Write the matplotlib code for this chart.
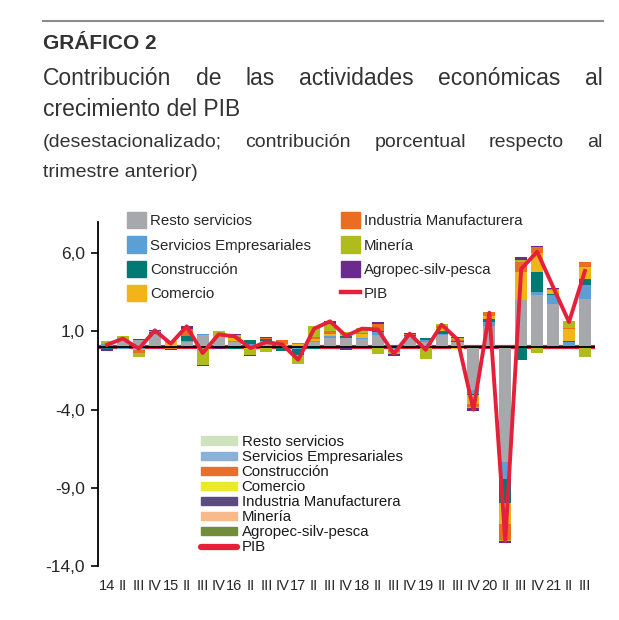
import matplotlib
matplotlib.use("Agg")
import matplotlib.pyplot as plt
from matplotlib.patches import Patch
from matplotlib.lines import Line2D
import numpy as np

plt.rcParams['font.family'] = ['Liberation Sans', 'DejaVu Sans']

# quarter labels 2014-I .. 2021-III
quarters = []
for yr in range(14, 22):
    for q in [str(yr), "II", "III", "IV"]:
        quarters.append(q)
quarters = quarters[:31]

# contributions (pp)
resto = [0.10, 0.30, 0.47, 0.85, 0.05, 0.32, 0.80, 0.62, 0.35, 0.15, 0.35, 0.05, 0.10, 0.32, 0.60, 0.60,
         0.50, 0.75, 0.10, 0.65, 0.30, 0.75, 0.30, -2.73, 1.33, -7.37, 3.00, 3.30, 2.74, 0.05, 3.10]
serv_emp = [0.08, -0.10, -0.10, -0.05, 0.00, 0.10, 0.05, -0.05, 0.05, 0.07, 0.05, -0.08, -0.15, 0.08, 0.10, -0.05,
            0.05, 0.20, -0.10, 0.05, 0.18, 0.10, 0.05, -0.27, 0.27, -1.07, 0.00, 0.20, 0.56, 0.30, 0.85]
construccion = [-0.10, 0.05, -0.05, 0.12, 0.00, 0.32, 0.00, 0.03, -0.10, 0.25, 0.10, -0.15, -0.35, -0.10, 0.00, 0.10,
                0.05, 0.05, 0.05, 0.05, 0.10, 0.15, 0.05, -0.05, 0.20, -1.50, -0.80, 1.30, 0.12, 0.07, 0.43]
comercio = [0.00, 0.10, -0.05, 0.00, 0.30, 0.00, 0.00, 0.05, 0.15, -0.10, 0.00, 0.15, 0.10, 0.12, 0.15, 0.05,
            0.25, 0.05, -0.10, 0.05, 0.00, 0.25, -0.15, -0.60, 0.20, -1.35, 1.80, 1.20, 0.26, 0.75, 0.75]
industria = [0.00, 0.00, -0.15, 0.00, -0.12, 0.43, 0.00, 0.00, 0.10, 0.00, 0.05, 0.25, 0.05, 0.10, 0.20, 0.00,
             0.05, 0.40, -0.10, 0.03, 0.00, 0.12, 0.05, -0.20, 0.22, -1.07, 0.65, 0.40, 0.05, 0.06, 0.32]
mineria = [0.20, 0.25, -0.30, 0.05, 0.05, -0.05, -1.15, 0.30, 0.10, -0.40, -0.33, 0.00, -0.60, 0.75, 0.40, 0.20,
           0.35, -0.47, -0.15, 0.00, -0.75, 0.10, 0.15, -0.05, 0.00, -0.05, 0.15, -0.36, 0.00, 0.41, -0.64]
agro = [-0.15, -0.05, 0.06, 0.10, -0.05, 0.20, -0.08, -0.10, 0.10, -0.05, 0.10, -0.05, 0.03, -0.05, 0.20, -0.15,
        -0.05, 0.15, -0.15, 0.07, 0.00, -0.04, 0.03, -0.20, 0.00, -0.10, 0.15, 0.05, 0.05, 0.02, 0.00]
pib = [0.15, 0.54, -0.10, 1.07, 0.22, 1.33, -0.38, 0.81, 0.69, -0.06, 0.32, 0.17, -0.81, 1.18, 1.65, 0.71,
       1.18, 1.13, -0.43, 0.86, -0.17, 1.43, 0.49, -4.00, 2.20, -12.40, 5.00, 6.10, 3.85, 1.60, 4.87]

series_names = ["Resto servicios", "Servicios Empresariales", "Construcción", "Comercio",
                "Industria Manufacturera", "Minería", "Agropec-silv-pesca"]
series_vals = [resto, serv_emp, construccion, comercio, industria, mineria, agro]
series_cols = ["#a7a8ab", "#5b9fd4", "#007a73", "#f2b517", "#ea6d21", "#b0bb1c", "#6a2b8d"]
pib_col = "#e5203a"

ytick_vals = [-14, -9, -4, 1, 6]
ytick_labels = ["-14,0", "-9,0", "-4,0", "1,0", "6,0"]

# odd second legend seen in the original
legend2_names = ["Resto servicios", "Servicios Empresariales", "Construcción", "Comercio",
                 "Industria Manufacturera", "Minería", "Agropec-silv-pesca"]
legend2_cols = ["#cde2bd", "#8ab2d8", "#e8712a", "#ece82a", "#5c4b7f", "#f8b98b", "#718c3b"]

txt_col = "#262626"

fig = plt.figure(figsize=(6.19, 6.20), dpi=100)
W, H = 619, 620
ax = fig.add_axes([97.5 / W, 1 - 566 / H, 497 / W, 344 / H])

x = np.arange(len(quarters))
pos_bottom = np.zeros(len(x))
neg_bottom = np.zeros(len(x))
for name, vals, col in zip(series_names, series_vals, series_cols):
    v = np.array(vals)
    pos = np.where(v > 0, v, 0)
    neg = np.where(v < 0, v, 0)
    ax.bar(x, pos, 0.76, bottom=pos_bottom, color=col, zorder=2)
    ax.bar(x, neg, 0.76, bottom=neg_bottom, color=col, zorder=2)
    pos_bottom += pos
    neg_bottom += neg

ax.axhline(0, color=pib_col, lw=3, zorder=1)
ax.axhline(0, color="black", lw=1.3, zorder=3)
ax.plot(x, pib, color=pib_col, lw=2.8, zorder=5)

ax.set_xlim(-0.6, 30.6)
ax.set_ylim(-14, 8)
ax.set_yticks(ytick_vals)
ax.set_yticklabels(ytick_labels, fontsize=12.5, color=txt_col)
ax.set_xticks(x)
ax.set_xticklabels(quarters, fontsize=10.5, color=txt_col)
ax.tick_params(axis='x', length=0, pad=9)
ax.tick_params(axis='y', length=5, width=1.2, pad=4)
for s in ["top", "right", "bottom"]:
    ax.spines[s].set_visible(False)
ax.spines["left"].set_linewidth(1.3)

handles = [Patch(color=c) for c in series_cols] + [Line2D([0], [0], color=pib_col, lw=3.2)]
labels = series_names + ["PIB"]
leg1 = ax.legend(handles, labels, ncol=2, loc="upper left", bbox_to_anchor=(0.059, 1.029),
                 frameon=False, fontsize=10.8, handlelength=1.27, handleheight=1.3,
                 handletextpad=0.3, labelspacing=0.53, columnspacing=1.95, borderaxespad=0, borderpad=0)
for t in leg1.get_texts():
    t.set_color(txt_col)
ax.add_artist(leg1)

handles2 = [Patch(color=c) for c in legend2_cols] + \
           [Line2D([0], [0], color=pib_col, lw=4.5, solid_capstyle="round")]
labels2 = legend2_names + ["PIB"]
leg2 = ax.legend(handles2, labels2, loc="upper left", bbox_to_anchor=(0.208, 0.381),
                 frameon=False, fontsize=10.8, handlelength=2.38, handleheight=0.47,
                 handletextpad=0.33, labelspacing=0.07, borderaxespad=0, borderpad=0)
for t in leg2.get_texts():
    t.set_color("#1a1a1a")

# header
fig.add_artist(Line2D([43 / W, 603 / W], [1 - 21 / H, 1 - 21 / H], color="#8c8c8c", lw=1.5))
fig.text(43 / W, 1 - 49 / H, "GRÁFICO 2", fontsize=15, fontweight="bold", color="#333333", va="baseline")

renderer = fig.canvas.get_renderer()


def justified(words, x0, x1, y, size):
    texts = [fig.text(0, 1 - y / H, w, fontsize=size, color="#333333", va="baseline") for w in words]
    widths = [t.get_window_extent(renderer).width for t in texts]
    gap = ((x1 - x0) - sum(widths)) / (len(words) - 1)
    cur = x0
    for t, w in zip(texts, widths):
        t.set_x(cur / W)
        cur += w + gap


justified("Contribución de las actividades económicas al".split(), 43, 603, 85, 16.5)
fig.text(43 / W, 1 - 116 / H, "crecimiento del PIB", fontsize=16.5, color="#333333", va="baseline")
justified("(desestacionalizado; contribución porcentual respecto al".split(), 43, 603, 147, 14)
fig.text(43 / W, 1 - 177 / H, "trimestre anterior)", fontsize=14, color="#333333", va="baseline")

fig.savefig("out.png", dpi=100)
